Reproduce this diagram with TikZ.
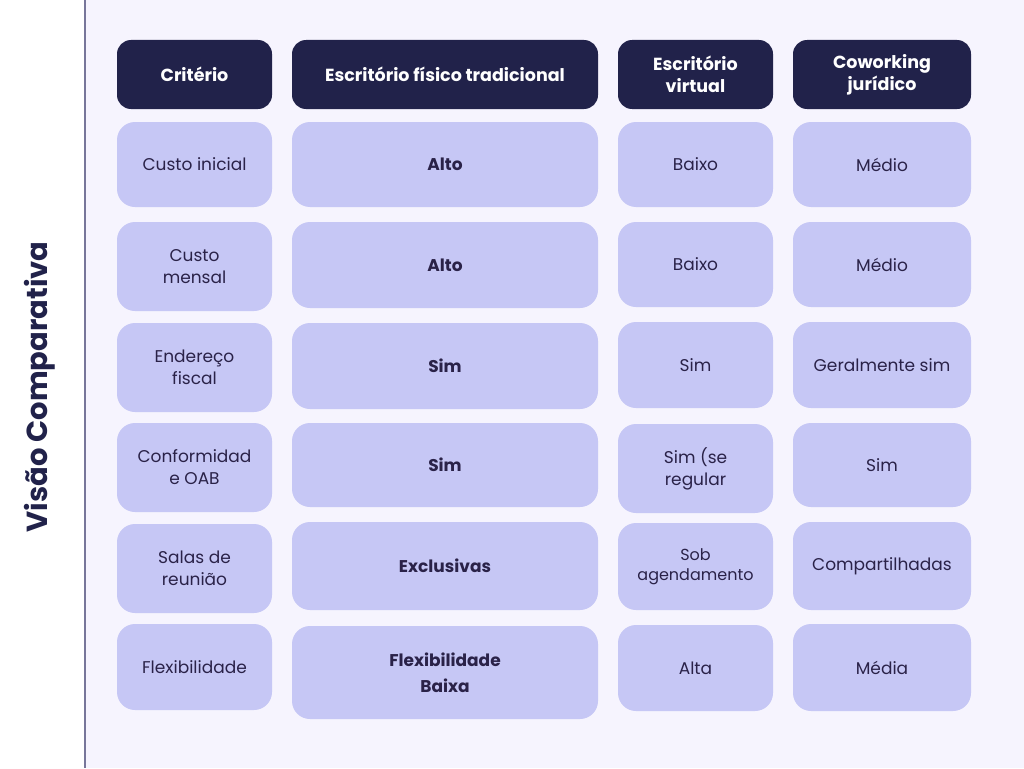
\documentclass[tikz,border=0pt]{standalone}
\usepackage{fontspec}
\setmainfont{Poppins}
\usetikzlibrary{calc}
\definecolor{page}{HTML}{F6F4FE}
\definecolor{navy}{HTML}{21224A}
\definecolor{lilac}{HTML}{C6C7F5}
\definecolor{ink}{HTML}{2A2248}
\definecolor{rulecol}{HTML}{77769A}

\begin{document}
\begin{tikzpicture}[x=1pt,y=-1pt,
  head/.style={fill=navy,text=white,rounded corners=14pt,inner sep=0pt,align=center,
    font=\fontsize{17.5}{22}\selectfont\bfseries},
  cell/.style={fill=lilac,text=ink,rounded corners=18pt,inner sep=0pt,align=center,
    font=\fontsize{17}{22}\selectfont},
  boldcell/.style={cell,font=\fontsize{17}{26}\selectfont\bfseries}]
  \useasboundingbox (0,0) rectangle (1024,768);
  \path[fill=white] (0,0) rectangle (85,768);
  \path[fill=page] (85,0) rectangle (1024,768);
  \draw[rulecol,line width=1.2pt] (85,0) -- (85,768);
  \node[rotate=90,text=navy,font=\fontsize{29}{36}\selectfont\bfseries] (title) at (40,387) {Visão Comparativa};

  \node[head,minimum width=155pt,minimum height=69pt] (hCrit) at (194.5,74.5) {Critério};
  \node[head,minimum width=306pt,minimum height=69pt] (hFis) at (445,74.5) {Escritório físico tradicional};
  \node[head,minimum width=155pt,minimum height=69pt] (hVirt) at (695.5,74.5) {Escritório\\virtual};
  \node[head,minimum width=178pt,minimum height=69pt] (hCow) at (882,74.5) {Coworking\\jurídico};

  \node[cell,minimum width=155pt,minimum height=85pt] (critA) at (194.5,164.5) {Custo inicial};
  \node[boldcell,minimum width=306pt,minimum height=85pt] (fisA) at (445,164.5) {Alto};
  \node[cell,minimum width=155pt,minimum height=85pt] (virtA) at (695.5,164.5) {Baixo};
  \node[cell,minimum width=178pt,minimum height=85pt] (cowA) at (882,164.5) {Médio};

  \node[cell,minimum width=155pt,minimum height=89pt] (critB) at (194.5,266.5) {Custo\\mensal};
  \node[boldcell,minimum width=306pt,minimum height=86pt] (fisB) at (445,265) {Alto};
  \node[cell,minimum width=155pt,minimum height=85pt] (virtB) at (695.5,264.5) {Baixo};
  \node[cell,minimum width=178pt,minimum height=85pt] (cowB) at (882,264.5) {Médio};

  \node[cell,minimum width=155pt,minimum height=89pt] (critC) at (194.5,367.5) {Endereço\\fiscal};
  \node[boldcell,minimum width=306pt,minimum height=86pt] (fisC) at (445,366) {Sim};
  \node[cell,minimum width=155pt,minimum height=86pt] (virtC) at (695.5,365) {Sim};
  \node[cell,minimum width=178pt,minimum height=86pt] (cowC) at (882,365) {Geralmente sim};

  \node[cell,minimum width=155pt,minimum height=89pt] (critD) at (194.5,467.5) {Conformidad\\e OAB};
  \node[boldcell,minimum width=306pt,minimum height=84pt] (fisD) at (445,465) {Sim};
  \node[cell,minimum width=155pt,minimum height=89pt] (virtD) at (695.5,468.5) {Sim (se\\regular};
  \node[cell,minimum width=178pt,minimum height=84pt] (cowD) at (882,465) {Sim};

  \node[cell,minimum width=155pt,minimum height=89pt] (critE) at (194.5,568.5) {Salas de\\reunião};
  \node[boldcell,minimum width=306pt,minimum height=88pt] (fisE) at (445,566) {Exclusivas};
  \node[cell,minimum width=155pt,minimum height=87pt,font=\fontsize{16}{20}\selectfont] (virtE) at (695.5,566.5) {Sob\\agendamento};
  \node[cell,minimum width=178pt,minimum height=88pt] (cowE) at (882,566) {Compartilhadas};

  \node[cell,minimum width=155pt,minimum height=86pt] (critF) at (194.5,667) {Flexibilidade};
  \node[boldcell,minimum width=306pt,minimum height=93pt] (fisF) at (445,672.5) {Flexibilidade\\Baixa};
  \node[cell,minimum width=155pt,minimum height=86pt] (virtF) at (695.5,668) {Alta};
  \node[cell,minimum width=178pt,minimum height=87pt] (cowF) at (882,667.5) {Média};
\end{tikzpicture}
\end{document}
